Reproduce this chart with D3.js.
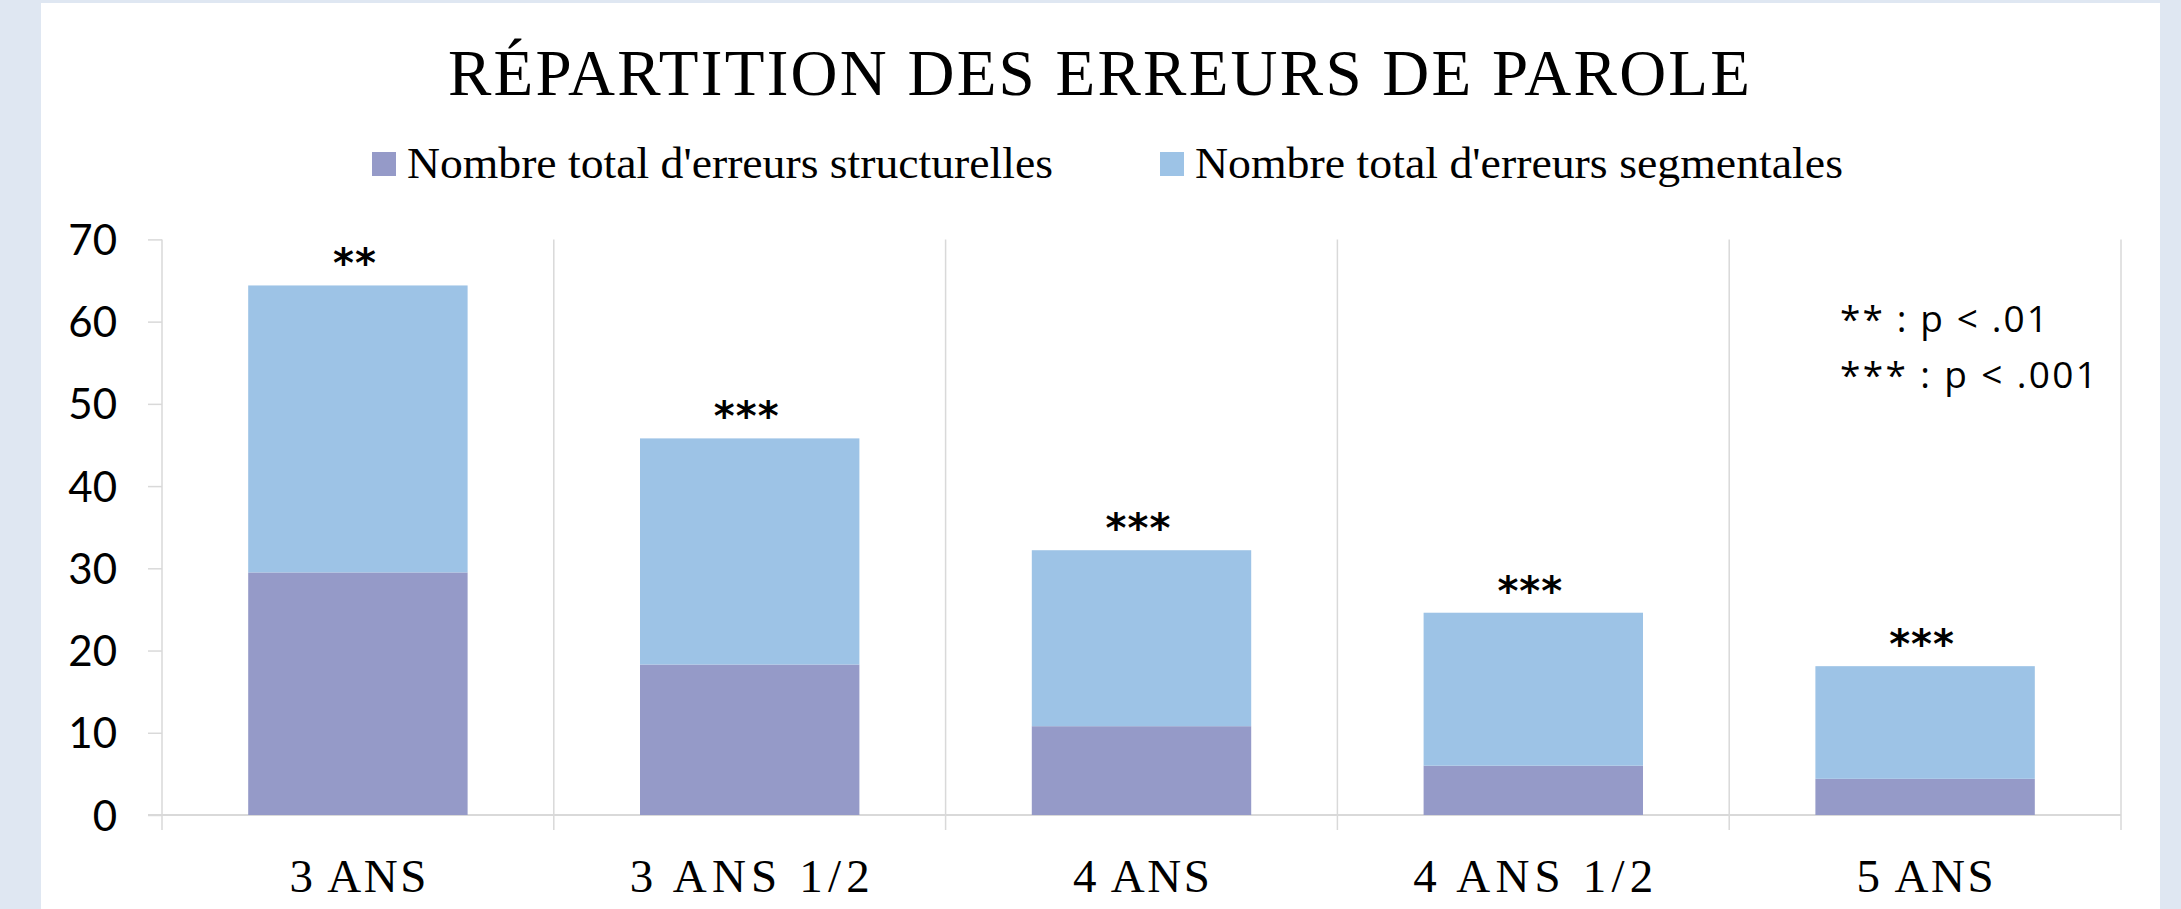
<!DOCTYPE html>
<html><head><meta charset="utf-8">
<script src="https://cdn.jsdelivr.net/npm/d3@7"></script>
<style>
html,body{margin:0;padding:0;background:#dfe7f2;}
svg{display:block;}
</style></head>
<body>
<svg id="chart" width="2181" height="909"></svg>
<script>
const categories = ["3 ANS", "3 ANS 1/2", "4 ANS", "4 ANS 1/2", "5 ANS"];
const structurelles = [29.5, 18.3, 10.8, 6.0, 4.4];
const segmentales = [34.9, 27.5, 21.4, 18.6, 13.7];
const significance = ["**", "***", "***", "***", "***"];
const yTicks = [0, 10, 20, 30, 40, 50, 60, 70];
const seriesNames = ["Nombre total d'erreurs structurelles", "Nombre total d'erreurs segmentales"];
const seriesColors = ["#959ac8", "#9dc3e6"];
const title = "RÉPARTITION DES ERREURS DE PAROLE";
const pLegend = ["** : p < .01", "*** : p < .001"];

const svg = d3.select("#chart");
svg.append("rect").attr("x", 41).attr("y", 3).attr("width", 2119).attr("height", 906).attr("fill", "#ffffff");

const x = d3.scaleBand().domain(categories).range([162, 2121]).padding(0);
const y = d3.scaleLinear().domain([0, 70]).range([815, 239.4]);
const barW = x.bandwidth() * 0.56;
const grid = "#d9d9d9";

// vertical separators
const bounds = categories.map(c => x(c)).concat([x.range()[1]]);
svg.append("g").selectAll("line").data(bounds).join("line")
  .attr("x1", d => d).attr("x2", d => d).attr("y1", y(70)).attr("y2", 830)
  .attr("stroke", grid).attr("stroke-width", 1.5);

// y axis
const yAxis = d3.axisLeft(y).tickValues(yTicks).tickSize(14).tickPadding(31);
const ga = svg.append("g").attr("transform", "translate(162,0)").call(yAxis);
ga.select(".domain").remove();
ga.selectAll(".tick line").attr("stroke", grid).attr("stroke-width", 1.5);
ga.selectAll(".tick text").attr("font-family", "Lato, 'Open Sans', sans-serif").attr("font-size", 42).attr("fill", "#000").attr("dy", "0.36em");

// x axis line
svg.append("line").attr("x1", 148).attr("x2", 2121).attr("y1", y(0)).attr("y2", y(0))
  .attr("stroke", grid).attr("stroke-width", 2);

// stacked bars
const data = categories.map((c, i) => ({c, s: structurelles[i], g: segmentales[i], sig: significance[i]}));
const stack = d3.stack().keys(["s", "g"])(data);
svg.append("g").selectAll("g").data(stack).join("g")
  .attr("fill", (d, i) => seriesColors[i])
  .selectAll("rect").data(d => d).join("rect")
  .attr("x", d => x(d.data.c) + (x.bandwidth() - barW) / 2)
  .attr("width", barW)
  .attr("y", d => y(d[1]))
  .attr("height", d => y(d[0]) - y(d[1]));

// significance stars
svg.append("g").selectAll("text").data(data).join("text")
  .attr("x", d => x(d.c) + x.bandwidth() / 2 - 3)
  .attr("y", d => y(d.s + d.g) - 8)
  .attr("text-anchor", "middle")
  .attr("font-family", "'DejaVu Sans', sans-serif").attr("font-weight", "bold").attr("font-size", 40)
  .attr("letter-spacing", 1)
  .text(d => d.sig);

// category labels
const catWidths = {"3 ANS": 137, "3 ANS 1/2": 240, "4 ANS": 137, "4 ANS 1/2": 240, "5 ANS": 137};
svg.append("g").selectAll("text").data(categories).join("text")
  .attr("x", d => x(d) + x.bandwidth() / 2 - catWidths[d] / 2)
  .attr("y", 891.7)
  .attr("font-family", "'Liberation Serif', serif").attr("font-size", 47)
  .attr("textLength", d => catWidths[d]).attr("lengthAdjust", "spacing")
  .text(d => d);

// title
svg.append("text").attr("x", 448).attr("y", 95)
  .attr("font-family", "'Liberation Serif', serif").attr("font-size", 65)
  .attr("textLength", 1302).attr("lengthAdjust", "spacing")
  .text(title);

// legend
const legX = [372, 1160], legTW = [646, 648];
const lg = svg.append("g").selectAll("g").data(seriesNames).join("g");
lg.append("rect").attr("x", (d, i) => legX[i]).attr("y", 152).attr("width", 24).attr("height", 24)
  .attr("fill", (d, i) => seriesColors[i]);
lg.append("text").attr("x", (d, i) => legX[i] + 35).attr("y", 178)
  .attr("font-family", "'Liberation Serif', serif").attr("font-size", 44)
  .attr("textLength", (d, i) => legTW[i]).attr("lengthAdjust", "spacingAndGlyphs")
  .text(d => d);

// p legend
const pW = [208, 257];
svg.append("g").selectAll("text").data(pLegend).join("text")
  .attr("x", 1840).attr("y", (d, i) => 331.7 + i * 56.6)
  .attr("font-family", "'Open Sans', sans-serif").attr("font-size", 37)
  .attr("textLength", (d, i) => pW[i]).attr("lengthAdjust", "spacing")
  .text(d => d);
</script>
</body></html>
